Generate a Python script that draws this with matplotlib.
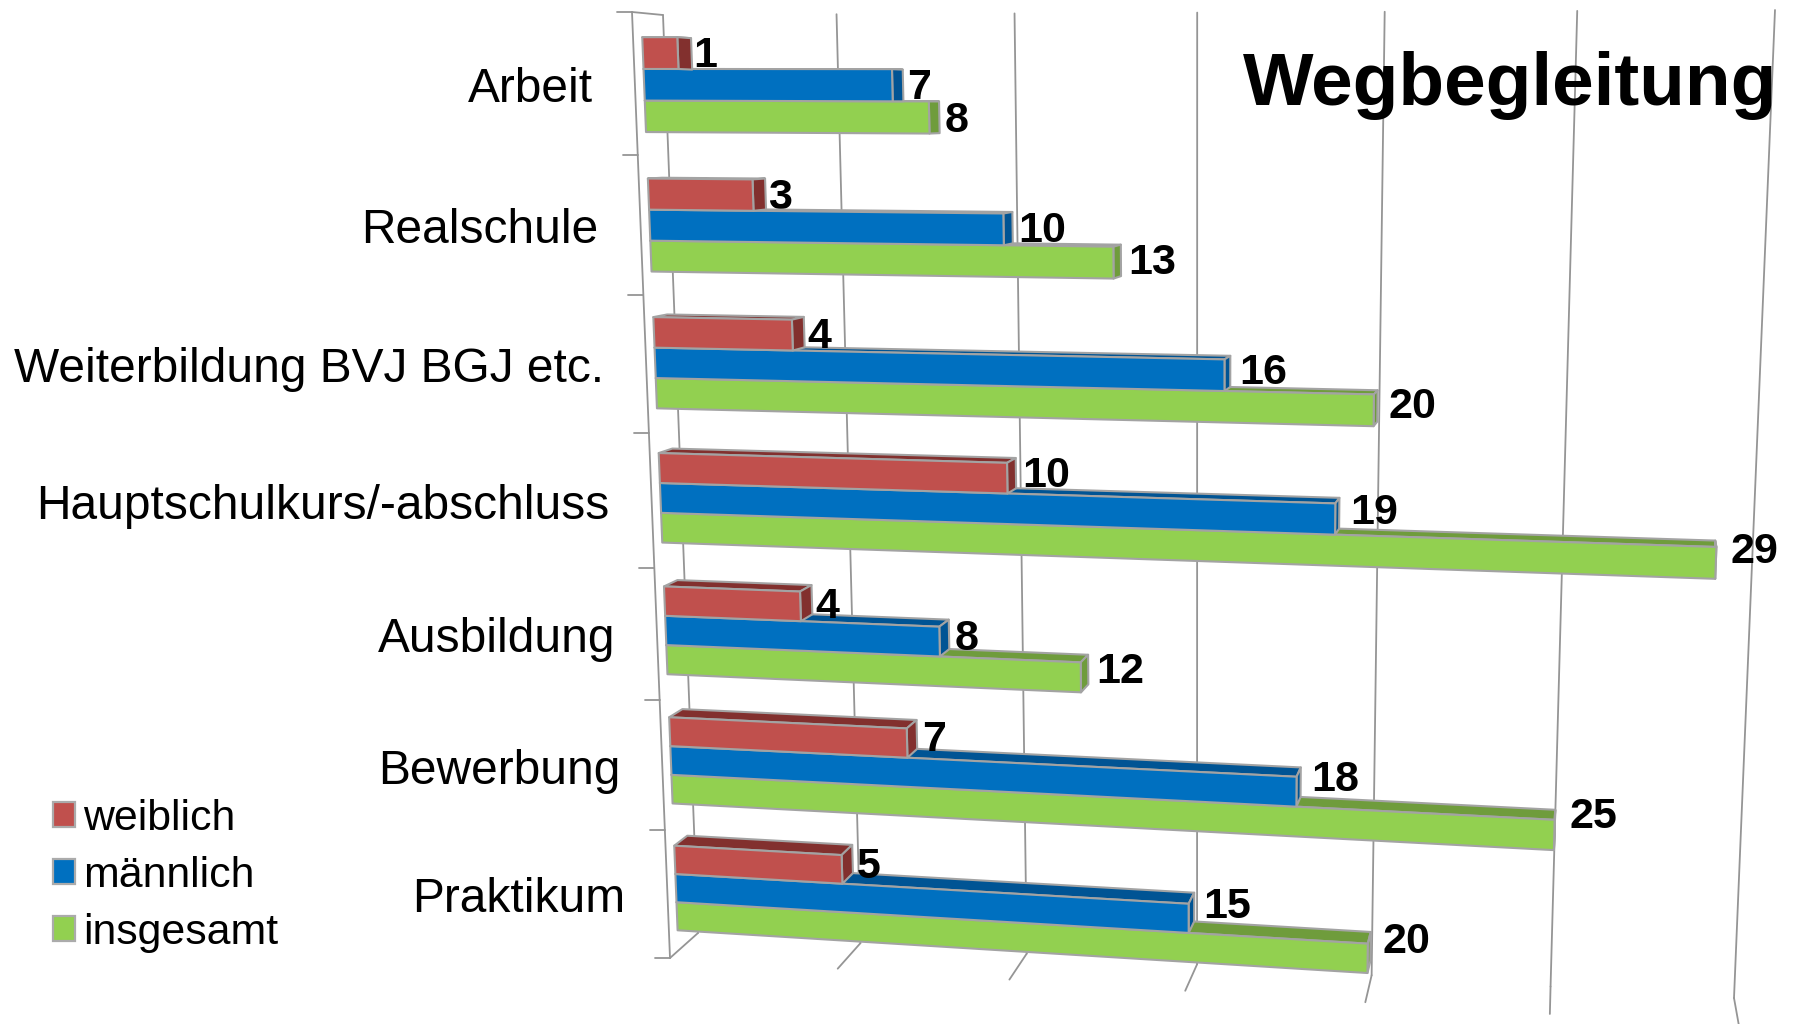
import numpy as np
import matplotlib
matplotlib.use("Agg")
import matplotlib.pyplot as plt
from matplotlib.patches import Polygon, Patch

plt.rcParams['font.family'] = ['Liberation Sans', 'DejaVu Sans']

# Chart data
categories = ["Arbeit", "Realschule", "Weiterbildung BVJ BGJ etc.", "Hauptschulkurs/-abschluss",
              "Ausbildung", "Bewerbung", "Praktikum"]
weiblich = [1, 3, 4, 10, 4, 7, 5]
maennlich = [7, 10, 16, 19, 8, 18, 15]
insgesamt = [8, 13, 20, 29, 12, 25, 20]
series_names = ["weiblich", "männlich", "insgesamt"]
value_ticks = [0, 5, 10, 15, 20, 25, 30]

face_colors = ["#C0504D", "#0070C0", "#92D050"]
dark_colors = ["#82302E", "#005494", "#6F9C3C"]
edge_color = "#A3A3A3"
line_color = "#959595"


# Perspective of the plot box: value and category go to pixels
def homography(src, dst):
    rows = []
    rhs = []
    for (u, v), (x, y) in zip(src, dst):
        rows.append([u, v, 1, 0, 0, 0, -u * x, -v * x])
        rows.append([0, 0, 0, u, v, 1, -u * y, -v * y])
        rhs += [x, y]
    return np.append(np.linalg.solve(np.array(rows, float), np.array(rhs, float)), 1).reshape(3, 3)


box = [(0, 0), (30, 0), (30, 7), (0, 7)]
H_front = homography(box, [(632, 12), (1777, 9), (1739, 1026), (670, 958)])
H_back = homography(box, [(663, 15), (1775, 10), (1734, 998), (698, 933)])


def project(value, cat, depth=0.0):
    def one(H):
        p = H @ np.array([value, cat, 1.0])
        return p[:2] / p[2]
    return (1 - depth) * one(H_front) + depth * one(H_back)


fig = plt.figure(figsize=(17.93, 10.24), dpi=100)
ax = fig.add_axes([0, 0, 1, 1])
ax.set_xlim(0, 1793)
ax.set_ylim(1024, 0)
ax.axis("off")


def line(a, b, lw=1.3):
    ax.plot([a[0], b[0]], [a[1], b[1]], color=line_color, lw=lw, solid_capstyle="round", zorder=1)


# Gridlines on the back wall and floor
for v in value_ticks:
    line(project(v, 0, 1), project(v, 7, 1))
    line(project(v, 7, 1), project(v, 7, 0))

# Left axis with ticks
line(project(0, 0, 0), project(0, 7, 0))
line(project(0, 0, 0), project(0, 0, 1))
for c in range(8):
    p = project(0, c, 0)
    line(p, (p[0] - 15, p[1]))

# Bars
front_d, back_d = 0.30, 0.76
bar_top = 0.17
bar_h = 0.223


def face(points, color, z):
    ax.add_patch(Polygon(points, closed=True, facecolor=color, edgecolor=edge_color,
                         lw=1.5, joinstyle="round", zorder=z))


z = 2
all_values = [weiblich, maennlich, insgesamt]
for c in range(len(categories)):
    for s in [2, 1, 0]:
        v = all_values[s][c]
        c0 = c + bar_top + s * bar_h
        c1 = c0 + bar_h
        face([project(0, c0, front_d), project(v, c0, front_d),
              project(v, c0, back_d), project(0, c0, back_d)], dark_colors[s], z)
        face([project(v, c0, front_d), project(v, c0, back_d),
              project(v, c1, back_d), project(v, c1, front_d)], dark_colors[s], z)
        face([project(0, c0, front_d), project(v, c0, front_d),
              project(v, c1, front_d), project(0, c1, front_d)], face_colors[s], z)
        z += 1

# Value labels, the two top groups sit behind the next bar
for c in range(len(categories)):
    for s in [2, 1, 0]:
        v = all_values[s][c]
        mid = c + bar_top + (s + 0.5) * bar_h
        x, y = project(v, mid, front_d)
        ax.text(x + 15, y + 3 - 0.165 * v * c, str(v), fontsize=31, fontweight="bold",
                ha="left", va="center", color="black", zorder=1.5 if c < 2 else 100)

# Category labels
for c, name in enumerate(categories):
    x, y = project(0, c + 0.5, 0)
    ax.text(x - 42, y + 5.5, name, fontsize=34.5, ha="right", va="center", color="black", zorder=100)

ax.text(1777, 86, "Wegbegleitung", fontsize=53.8, fontweight="bold", ha="right", va="center",
        color="black", zorder=100)

handles = [Patch(facecolor=col, edgecolor="#ABABAB", lw=1.6) for col in face_colors]
ax.legend(handles, series_names, loc="upper left", bbox_to_anchor=(40, 786), bbox_transform=ax.transData,
          frameon=False, fontsize=30.8, handlelength=0.52, handleheight=0.52,
          handletextpad=0.19, labelspacing=0.40, borderpad=0.3, borderaxespad=0)

fig.savefig("out.png", dpi=100)
